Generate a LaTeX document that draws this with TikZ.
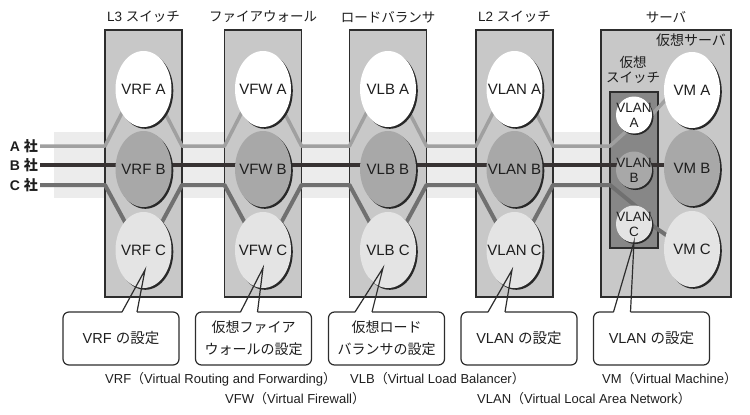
\documentclass[tikz,border=0pt]{standalone}
\usepackage{fontspec}
\setmainfont{Liberation Sans}
\newfontfamily\cjk{Noto Sans CJK JP}
\usetikzlibrary{shapes.geometric,shadows,calc}
\definecolor{boxfill}{RGB}{200,200,200}
\definecolor{bandc}{RGB}{236,236,236}
\definecolor{ellB}{RGB}{168,168,168}
\definecolor{ellC}{RGB}{228,228,228}
\definecolor{lineAc}{RGB}{160,160,160}
\definecolor{lineBc}{RGB}{55,50,50}
\definecolor{lineCc}{RGB}{112,112,112}
\definecolor{vswc}{RGB}{135,135,135}
\definecolor{bordc}{RGB}{45,45,45}
\definecolor{shadowc}{RGB}{40,40,40}
\definecolor{txt}{RGB}{30,30,30}
\begin{document}
\begin{tikzpicture}[x=1pt,y=-1pt,
  devbox/.style={draw=bordc, line width=1.4pt, fill=boxfill, minimum width=77pt, minimum height=267pt, inner sep=0pt, outer sep=0pt},
  vswbox/.style={draw=bordc, line width=1.2pt, fill=vswc, minimum width=48pt, minimum height=156pt, inner sep=0pt, outer sep=0pt},
  head/.style={font=\fontsize{13.5}{15.5}\selectfont, text=txt, inner sep=0pt, align=center},
  ell/.style={ellipse, minimum width=56pt, minimum height=76pt, inner sep=0pt, outer sep=0pt,
    drop shadow={shadow xshift=1.8pt, shadow yshift=-1.8pt, fill=shadowc, opacity=1}},
  small/.style={ellipse, minimum width=36pt, minimum height=37pt, inner sep=0pt, outer sep=0pt,
    drop shadow={shadow xshift=1.5pt, shadow yshift=-1.5pt, fill=shadowc, opacity=1}},
  ellt/.style={font=\fontsize{15}{17}\selectfont, text=txt, inner sep=0pt},
  smt/.style={font=\fontsize{13.5}{15}\selectfont, text=txt, inner sep=0pt, align=center},
  lnA/.style={draw=lineAc, line width=3.5pt, line join=round},
  lnB/.style={draw=lineBc, line width=4.5pt, line join=round},
  lnC/.style={draw=lineCc, line width=4pt, line join=round},
  co/.style={minimum width=116pt, minimum height=53pt, inner sep=0pt, outer sep=0pt, align=center,
    font=\fontsize{14.5}{22}\selectfont, text=txt},
  cojp/.style={co, font=\fontsize{14}{22}\selectfont\cjk},
  coline/.style={draw=bordc, line width=1.2pt},
  note/.style={font=\fontsize{13}{15}\selectfont, anchor=west, inner sep=0pt, text=txt},
  corp/.style={font=\fontsize{14}{16}\selectfont\bfseries, text=txt, anchor=east, inner sep=0pt}
]
\useasboundingbox (0,0) rectangle (750,415);

% background band
\fill[bandc] (54,132) rectangle (601,198);

% device boxes
\node[devbox] (l3) at (143.5,163.5) {};
\node[devbox] (fw) at (263,163.5) {};
\node[devbox] (lb) at (388,163.5) {};
\node[devbox] (l2) at (514.5,163.5) {};
\node[devbox, minimum width=130pt] (srv) at (666,163.5) {};
\node[vswbox] (vsw) at (634,170) {};

% headings
\node[head] (hl3) at (143.5,17) {L3 {\cjk スイッチ}};
\node[head] (hfw) at (263,17) {\cjk ファイアウォール};
\node[head] (hlb) at (388,17) {\cjk ロードバランサ};
\node[head] (hl2) at (514.5,17) {L2 {\cjk スイッチ}};
\node[head] (hsrv) at (666,17) {\cjk サーバ};
\node[head, font=\fontsize{14}{16}\selectfont] (hvs) at (691,40) {\cjk 仮想サーバ};
\node[head, font=\fontsize{13.5}{15.5}\selectfont\cjk] (hvsw) at (633,70) {仮想\\スイッチ};

% company labels and line starts
\coordinate (startA) at (40,146);
\coordinate (startB) at (40,165);
\coordinate (startC) at (40,185);
\node[corp] (cA) at (38,146) {A {\cjk 社}};
\node[corp] (cB) at (38,165) {B {\cjk 社}};
\node[corp] (cC) at (38,185) {C {\cjk 社}};

% ellipse positions
\path (143.5,89) coordinate (pvrfA) (263,89) coordinate (pvfwA) (388,89) coordinate (pvlbA) (514.5,89) coordinate (pvlanA);
\path (143.5,250) coordinate (pvrfC) (263,250) coordinate (pvfwC) (388,250) coordinate (pvlbC) (514.5,250) coordinate (pvlanC);

% line A
\draw[lnA] (startA)
  foreach \b/\e in {l3/pvrfA, fw/pvfwA, lb/pvlbA, l2/pvlanA}{
    -- (\b.west |- startA) -- ($(\e)+(-18,17)$) -- (\e) -- ($(\e)+(18,17)$) -- (\b.east |- startA)}
  -- (vsw.west |- startA) -- (630,128) -- (634,115);
% line B
\draw[lnB] (startB) -- (692,165);
% line C
\draw[lnC] (startC)
  foreach \b/\e in {l3/pvrfC, fw/pvfwC, lb/pvlbC, l2/pvlanC}{
    -- (\b.west |- startC) -- ($(\e)+(-18,-27)$) -- (\e) -- ($(\e)+(18,-27)$) -- (\b.east |- startC)}
  -- (vsw.west |- startC) -- (638,208) -- (634,224);
% virtual switch to VM
\draw[lnA] (648,119) -- (670,95);
\draw[lnC] (637,215) -- (672,239);

% ellipses
\node[ell, fill=white] (vrfA) at (pvrfA) [label={[ellt]center:VRF A}] {};
\node[ell, fill=ellB] (vrfB) at (143.5,169) [label={[ellt]center:VRF B}] {};
\node[ell, fill=ellC] (vrfC) at (pvrfC) [label={[ellt]center:VRF C}] {};
\node[ell, fill=white] (vfwA) at (pvfwA) [label={[ellt]center:VFW A}] {};
\node[ell, fill=ellB] (vfwB) at (263,169) [label={[ellt]center:VFW B}] {};
\node[ell, fill=ellC] (vfwC) at (pvfwC) [label={[ellt]center:VFW C}] {};
\node[ell, fill=white] (vlbA) at (pvlbA) [label={[ellt]center:VLB A}] {};
\node[ell, fill=ellB] (vlbB) at (388,169) [label={[ellt]center:VLB B}] {};
\node[ell, fill=ellC] (vlbC) at (pvlbC) [label={[ellt]center:VLB C}] {};
\node[ell, fill=white] (vlanA) at (pvlanA) [label={[ellt]center:VLAN A}] {};
\node[ell, fill=ellB] (vlanB) at (514.5,169) [label={[ellt]center:VLAN B}] {};
\node[ell, fill=ellC] (vlanC) at (pvlanC) [label={[ellt]center:VLAN C}] {};
\node[ell, fill=white] (vmA) at (692,90) [label={[ellt]center:VM A}] {};
\node[ell, fill=ellB] (vmB) at (692,168) [label={[ellt]center:VM B}] {};
\node[ell, fill=ellC] (vmC) at (692,249) [label={[ellt]center:VM C}] {};
\node[small, fill=white] (vsA) at (634,115) [label={[smt]center:{VLAN\\A}}] {};
\node[small, fill=ellB] (vsB) at (634,170) [label={[smt]center:{VLAN\\B}}] {};
\node[small, fill=ellC] (vsC) at (634,224) [label={[smt]center:{VLAN\\C}}] {};

% callouts
\node[co] (co1) at (121,338.5) {VRF {\cjk の設定}};
\node[cojp] (co2) at (253.5,338.5) {仮想ファイア\\ウォールの設定};
\node[cojp] (co3) at (386.5,338.5) {仮想ロード\\バランサの設定};
\node[co] (co4) at (519,338.5) {VLAN {\cjk の設定}};
\node[co] (co5) at (651.5,338.5) {VLAN {\cjk の設定}};
\foreach \n/\a/\b/\t/\dx/\dy in {co1/59/74/vrfC/1.5/20, co2/45/62/vfwC/0/18, co3/26.5/43.5/vlbC/-5/18, co4/27/44/vlanC/-2.5/20, co5/20/37/vsC/0/18}{
  \draw[coline, rounded corners=6pt] ($(\n.north west)+(\b,0)$) -- (\n.north east) -- (\n.south east) -- (\n.south west) -- (\n.north west) -- ($(\n.north west)+(\a,0)$);
  \draw[coline] ($(\n.north west)+(\a,0)$) -- ($(\t)+(\dx,\dy)$) -- ($(\n.north west)+(\b,0)$);
}

% notes
\node[note] (nVRF) at (105,379) {VRF{\cjk （}Virtual Routing and Forwarding{\cjk ）}};
\node[note] (nVLB) at (350,379) {VLB{\cjk （}Virtual Load Balancer{\cjk ）}};
\node[note] (nVM) at (602,379) {VM{\cjk （}Virtual Machine{\cjk ）}};
\node[note] (nVFW) at (225,399) {VFW{\cjk （}Virtual Firewall{\cjk ）}};
\node[note] (nVLAN) at (477,399) {VLAN{\cjk （}Virtual Local Area Network{\cjk ）}};
\end{tikzpicture}
\end{document}
